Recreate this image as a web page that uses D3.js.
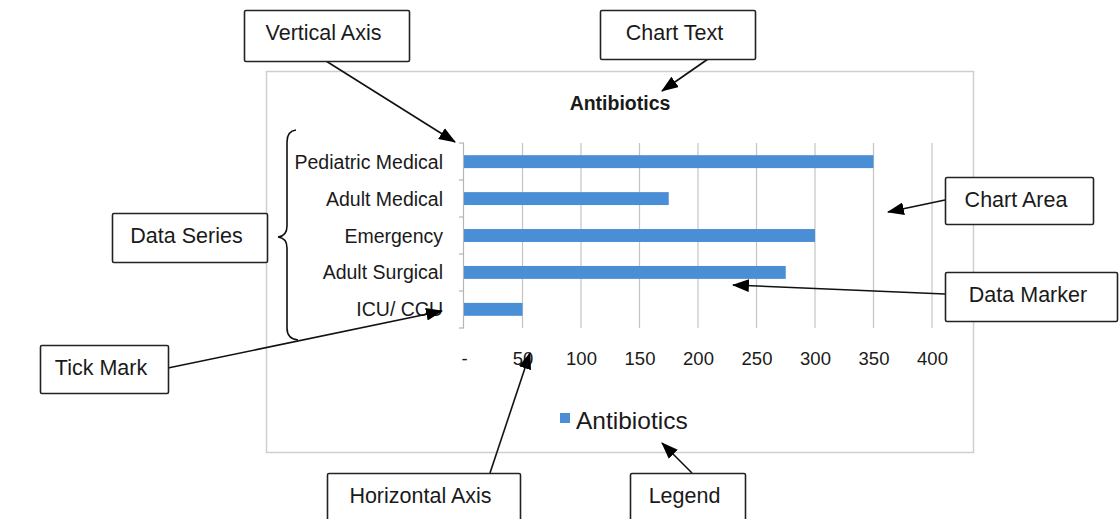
<!DOCTYPE html>
<html>
<head>
<meta charset="utf-8">
<script src="https://cdn.jsdelivr.net/npm/d3@7"></script>
<style>
  body { margin: 0; background: #fff; }
  text { font-family: "Liberation Sans", Arial, Helvetica, sans-serif; fill: #1a1a1a; }
  .grid line { stroke: #c4c4c4; stroke-width: 1.2; }
  .callout rect { fill: #fff; stroke: #222; stroke-width: 1.6; }
  .pointer { stroke: #111; stroke-width: 1.6; fill: none; }
</style>
</head>
<body>
<div id="chart"></div>
<script>
// chart data
const categories = ['Pediatric Medical', 'Adult Medical', 'Emergency', 'Adult Surgical', 'ICU/ CCU']
const antibiotics = [350, 175, 300, 275, 50]
const xTicks = [0, 50, 100, 150, 200, 250, 300, 350, 400]
const seriesName = 'Antibiotics'
const chartTitle = 'Antibiotics'

// annotation labels
const calloutLabels = ['Vertical Axis', 'Chart Text', 'Chart Area', 'Data Series', 'Data Marker', 'Tick Mark', 'Horizontal Axis', 'Legend']

const W = 1119, H = 519
const plot = { left: 464, right: 932, top: 143, bottom: 328 }

const svg = d3.select('#chart').append('svg')
    .attr('width', W)
    .attr('height', H)

const defs = svg.append('defs')
defs.append('marker')
    .attr('id', 'arrow')
    .attr('viewBox', '0 0 16 12')
    .attr('refX', 15)
    .attr('refY', 6)
    .attr('markerWidth', 17)
    .attr('markerHeight', 13)
    .attr('markerUnits', 'userSpaceOnUse')
    .attr('orient', 'auto')
  .append('path')
    .attr('d', 'M0,0 L16,6 L0,12 Z')
    .attr('fill', '#000')

// chart area frame
svg.append('rect')
    .attr('x', 266.5).attr('y', 71.5)
    .attr('width', 707).attr('height', 381)
    .attr('fill', '#fff')
    .attr('stroke', '#cfcfcf')
    .attr('stroke-width', 1.5)

svg.append('text')
    .attr('x', 620).attr('y', 110)
    .attr('text-anchor', 'middle')
    .attr('font-size', 19.5)
    .attr('font-weight', 'bold')
    .text(chartTitle)

const x = d3.scaleLinear()
    .domain([0, 400])
    .range([plot.left, plot.right])

const y = d3.scaleBand()
    .domain(categories)
    .range([plot.top, plot.bottom])
    .paddingInner(0.65)
    .paddingOuter(0.33)

// vertical gridlines
svg.append('g')
    .attr('class', 'grid')
    .selectAll('line')
    .data(xTicks.slice(1))
    .enter().append('line')
        .attr('x1', d => x(d)).attr('x2', d => x(d))
        .attr('y1', plot.top).attr('y2', plot.bottom)

// horizontal axis labels
const xAxis = svg.append('g')
    .attr('transform', `translate(0, ${plot.bottom})`)
    .call(d3.axisBottom(x)
        .tickValues(xTicks)
        .tickSize(0)
        .tickPadding(24)
        .tickFormat(d => d === 0 ? '-' : d))
xAxis.select('.domain').remove()
xAxis.selectAll('text')
    .attr('font-size', 18.5)
    .attr('fill', '#1a1a1a')
    .style('font-family', '"Liberation Sans", Arial, sans-serif')

// vertical axis with tick marks between categories
const yEdges = d3.scaleLinear().domain([0, categories.length]).range([plot.top, plot.bottom])
svg.append('line')
    .attr('x1', plot.left - 0.5).attr('x2', plot.left - 0.5)
    .attr('y1', plot.top).attr('y2', plot.bottom)
    .attr('stroke', '#b5b5b5').attr('stroke-width', 1.2)
svg.append('g')
    .selectAll('line')
    .data(d3.range(categories.length + 1))
    .enter().append('line')
        .attr('x1', plot.left - 5).attr('x2', plot.left)
        .attr('y1', d => yEdges(d)).attr('y2', d => yEdges(d))
        .attr('stroke', '#b5b5b5').attr('stroke-width', 1.2)

svg.append('g')
    .selectAll('text')
    .data(categories)
    .enter().append('text')
        .attr('x', plot.left - 21)
        .attr('y', d => y(d) + y.bandwidth() / 2)
        .attr('dy', '0.36em')
        .attr('text-anchor', 'end')
        .attr('font-size', 19.5)
        .text(d => d)

// bars
svg.append('g')
    .selectAll('rect')
    .data(antibiotics)
    .enter().append('rect')
        .attr('x', x(0))
        .attr('y', (d, i) => y(categories[i]))
        .attr('width', d => x(d) - x(0))
        .attr('height', y.bandwidth())
        .attr('fill', '#4a8fd6')

// legend
svg.append('rect')
    .attr('x', 560).attr('y', 413)
    .attr('width', 10).attr('height', 10)
    .attr('fill', '#4a8fd6')
svg.append('text')
    .attr('x', 576).attr('y', 429)
    .attr('font-size', 24.5)
    .text(seriesName)

// brace grouping the data series
svg.append('path')
    .attr('class', 'pointer')
    .attr('stroke-width', 1.3)
    .attr('d', 'M296,130 Q287,131 287,142 L287,226 Q287,236 278,237 Q287,238 287,248 L287,328 Q287,339 298,340')

// callout pointers
const pointers = [
    [[326, 61], [455, 142]],
    [[708, 59], [662, 91]],
    [[945, 200], [888, 212]],
    [[945, 294], [733, 285]],
    [[168, 368], [442, 311]],
    [[490, 473], [530, 353]],
    [[692, 473], [662, 443]]
]
svg.append('g')
    .selectAll('line')
    .data(pointers)
    .enter().append('line')
        .attr('class', 'pointer')
        .attr('x1', d => d[0][0]).attr('y1', d => d[0][1])
        .attr('x2', d => d[1][0]).attr('y2', d => d[1][1])
        .attr('marker-end', 'url(#arrow)')

// callout boxes
const boxes = [
    { x: 244, y: 10, w: 165, h: 51 },
    { x: 600, y: 10, w: 155, h: 49 },
    { x: 945, y: 177, w: 148, h: 47 },
    { x: 112, y: 213, w: 155, h: 49 },
    { x: 945, y: 272, w: 172, h: 49 },
    { x: 40, y: 345, w: 128, h: 48 },
    { x: 327, y: 473, w: 193, h: 60 },
    { x: 630, y: 473, w: 115, h: 60 }
]
const callout = svg.append('g')
    .selectAll('g')
    .data(boxes)
    .enter().append('g')
        .attr('class', 'callout')
callout.append('rect')
    .attr('x', d => d.x + 0.5).attr('y', d => d.y + 0.5)
    .attr('width', d => d.w).attr('height', d => d.h)
    .attr('rx', 1.5)
callout.append('text')
    .attr('x', d => d.x + d.w / 2 - 3)
    .attr('y', d => d.y + 22)
    .attr('dy', '0.35em')
    .attr('text-anchor', 'middle')
    .attr('font-size', 21.5)
    .text((d, i) => calloutLabels[i])
</script>
</body>
</html>
